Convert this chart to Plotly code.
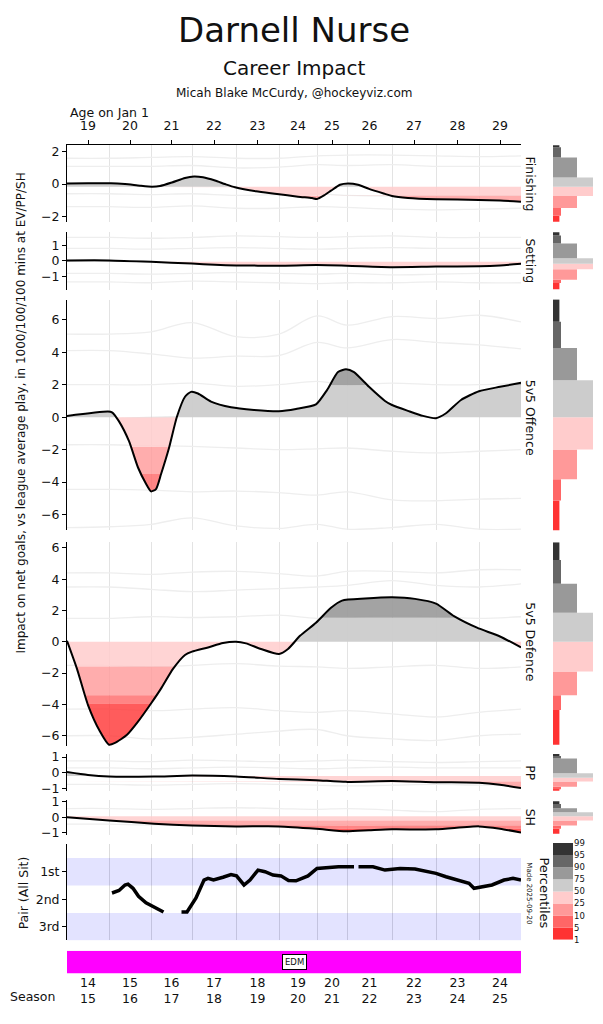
import numpy as np
import plotly.graph_objects as go

W, H = 603, 1024

# ---------------- data ----------------
season_labels = ["14<br>15", "15<br>16", "16<br>17", "17<br>18", "18<br>19", "19<br>20",
                 "20<br>21", "21<br>22", "22<br>23", "23<br>24", "24<br>25"]
season_span = [42, 42, 41, 44, 43, 38, 30, 45, 44, 43, 42]
age_labels = ["19", "20", "21", "22", "23", "24", "25", "26", "27", "28", "29"]

pct_levels = [1, 5, 10, 25, 50, 75, 90, 95, 99]
band_colors = ["#ff3333", "#ff6666", "#ff9999", "#ffcccc",
               "#cccccc", "#999999", "#666666", "#333333"]  # bottom -> top
fill_colors = ["rgba(255,51,51,0.8)", "rgba(255,102,102,0.8)", "rgba(255,153,153,0.8)",
               "rgba(255,204,204,0.85)", "rgba(204,204,204,0.95)", "rgba(153,153,153,0.9)",
               "rgba(102,102,102,0.9)", "rgba(51,51,51,0.9)"]

fin_x = [0, 21, 44, 58, 73, 85, 93, 105, 118, 127, 136, 148, 158, 168, 189, 210, 231, 245, 250,
         257, 264, 273, 281, 291, 302, 318, 325, 341, 369, 412, 433, 454]
fin_y = [0.04, 0.05, 0.05, 0.0, -0.1, -0.16, -0.12, 0.1, 0.38, 0.47, 0.42, 0.22, 0.0, -0.2, -0.45,
         -0.61, -0.78, -0.87, -0.92, -0.7, -0.41, -0.04, 0.04, -0.04, -0.3, -0.61, -0.74, -0.86,
         -0.94, -0.98, -1.02, -1.1]

set_x = [0, 42, 84, 125, 148, 169, 212, 250, 280, 325, 369, 412, 433, 454]
set_y = [0.03, 0.03, -0.06, -0.17, -0.25, -0.29, -0.31, -0.27, -0.31, -0.4, -0.36, -0.34, -0.29, -0.19]

off_x = [0, 41, 45, 52, 62, 71, 79, 84, 89, 94, 102, 110, 118, 124, 131, 144, 164, 187, 212, 229,
         249, 260, 271, 279, 287, 302, 318, 325, 341, 356, 369, 379, 394, 412, 433, 454]
off_y = [0.08, 0.35, 0.3, -0.26, -1.48, -3.1, -4.1, -4.57, -4.43, -3.52, -1.9, 0.04, 1.26, 1.56,
         1.46, 0.96, 0.61, 0.45, 0.37, 0.51, 0.79, 1.67, 2.78, 2.95, 2.78, 1.87, 1.0, 0.75, 0.39,
         0.08, -0.06, 0.24, 1.06, 1.6, 1.87, 2.12]

def_x = [0, 10, 21, 33, 42, 48, 60, 71, 84, 94, 106, 118, 125, 141, 156, 169, 179, 194, 212, 221,
         233, 249, 264, 275, 298, 325, 348, 369, 387, 410, 433, 454]
def_y = [0.06, -1.73, -4.04, -5.73, -6.57, -6.46, -5.94, -5.1, -3.94, -2.99, -1.73, -0.84, -0.63,
         -0.36, -0.08, 0.0, -0.1, -0.46, -0.78, -0.46, 0.38, 1.22, 2.17, 2.63, 2.76, 2.84, 2.74,
         2.44, 1.64, 0.9, 0.34, -0.36]

pp_x = [0, 21, 42, 87, 125, 169, 212, 249, 279, 325, 369, 412, 433, 454]
pp_y = [0.04, -0.15, -0.25, -0.25, -0.19, -0.25, -0.4, -0.48, -0.59, -0.53, -0.61, -0.65, -0.78, -0.99]

sh_x = [0, 42, 87, 125, 169, 212, 249, 279, 302, 325, 369, 412, 433, 454]
sh_y = [0.0, -0.21, -0.42, -0.53, -0.59, -0.59, -0.74, -0.9, -0.84, -0.78, -0.78, -0.59, -0.74, -0.99]

# percentile thresholds used for the area shading (p1..p99)
fin_fill = [-2.37, -1.96, -1.49, -0.72, -0.17, 0.5, 1.64, 2.29, 2.45]
set_fill = [-1.84, -1.42, -1.2, -0.53, -0.05, 0.17, 1.12, 1.63, 1.84]
off_fill = [-7.07, -5.1, -3.5, -1.83, 0.0, 1.97, 4.0, 5.6, 7.26]
def_fill = [-6.57, -3.94, -3.41, -1.58, 0.0, 1.54, 3.71, 5.22, 6.36]
pp_fill = [-1.16, -1.06, -0.9, -0.57, -0.22, 0.05, 0.9, 1.06, 1.2]
sh_fill = [-1.06, -0.74, -0.53, -0.21, 0.06, 0.32, 0.57, 0.84, 1.01]

# percentile edges of the side distributions (p1..p99)
fin_edges = [-2.37, -1.96, -1.49, -0.74, -0.17, 0.41, 1.64, 2.29, 2.45]
set_edges = [-1.84, -1.42, -1.2, -0.53, -0.19, 0.17, 1.12, 1.63, 1.84]
off_edges = [-7.07, -5.14, -3.82, -1.99, 0.0, 2.28, 4.27, 5.88, 7.26]
def_edges = [-6.57, -4.36, -3.41, -1.9, 0.0, 1.86, 3.71, 5.22, 6.36]
pp_edges = [-1.16, -1.06, -0.9, -0.57, -0.32, -0.04, 0.9, 1.06, 1.2]
sh_edges = [-1.06, -0.74, -0.53, -0.21, 0.06, 0.32, 0.57, 0.84, 1.01]

# faint league percentile curves, sampled at season boundaries
fin_faint = [[1.6, 1.6, 1.65, 1.7, 1.6, 1.6, 1.75, 1.8, 1.8, 1.75, 1.7, 1.75],
             [1.1, 1.1, 1.1, 1.15, 1.0, 1.05, 1.2, 1.15, 1.2, 1.1, 1.1, 1.1],
             [-0.6, -0.6, -0.65, -0.6, -0.7, -0.65, -0.6, -0.7, -0.75, -0.7, -0.7, -0.7],
             [-1.4, -1.4, -1.45, -1.35, -1.5, -1.5, -1.4, -1.45, -1.55, -1.6, -1.55, -1.5]]
set_faint = [[1.5, 1.5, 1.45, 1.5, 1.6, 1.55, 1.5, 1.55, 1.6, 1.5, 1.5, 1.5],
             [0.8, 0.8, 0.75, 0.8, 0.85, 0.8, 0.75, 0.8, 0.85, 0.8, 0.8, 0.8],
             [-0.8, -0.8, -0.85, -0.8, -0.75, -0.8, -0.85, -0.8, -0.9, -0.85, -0.8, -0.8],
             [-1.35, -1.35, -1.4, -1.3, -1.35, -1.4, -1.45, -1.4, -1.4, -1.35, -1.4, -1.4]]
off_faint = [[5.12, 5.12, 5.26, 5.83, 4.96, 5.12, 6.24, 5.67, 6.2, 6.08, 6.28, 5.87],
             [4.1, 4.1, 3.9, 3.64, 3.76, 3.8, 4.61, 4.27, 4.78, 4.61, 4.45, 4.21],
             [2.0, 2.0, 2.0, 2.1, 1.9, 2.0, 2.2, 2.0, 2.1, 2.0, 2.0, 2.1],
             [-1.7, -1.7, -1.75, -1.8, -1.9, -2.0, -1.95, -1.9, -2.1, -2.2, -2.1, -2.0],
             [-4.45, -4.45, -4.5, -4.6, -4.55, -4.65, -4.8, -4.6, -5.1, -5.15, -5.05, -5.0],
             [-6.8, -6.75, -6.6, -6.2, -6.7, -6.85, -6.6, -6.9, -6.8, -6.6, -6.9, -6.9]]
def_faint = [[4.4, 4.4, 4.3, 4.45, 4.5, 4.35, 4.2, 4.5, 4.5, 4.4, 4.6, 4.6],
             [3.5, 3.5, 3.35, 3.2, 3.3, 3.4, 3.5, 3.6, 3.9, 3.6, 3.5, 3.7],
             [1.5, 1.5, 1.6, 1.55, 1.6, 1.7, 1.5, 1.55, 1.7, 1.6, 1.5, 1.6],
             [-1.5, -1.5, -1.6, -1.5, -1.4, -1.55, -1.6, -1.7, -1.6, -1.5, -1.7, -1.6],
             [-4.3, -4.3, -4.4, -4.3, -4.2, -4.4, -4.5, -4.4, -4.6, -4.8, -4.5, -4.3],
             [-6.0, -6.0, -6.2, -6.1, -5.9, -5.7, -5.6, -6.0, -6.2, -6.3, -6.0, -5.9]]
pp_faint = [[0.75, 0.75, 0.7, 0.8, 0.75, 0.7, 0.75, 0.8, 0.7, 0.65, 0.7, 0.75],
            [0.3, 0.3, 0.25, 0.3, 0.35, 0.3, 0.25, 0.3, 0.35, 0.3, 0.3, 0.3],
            [-0.75, -0.75, -0.8, -0.75, -0.7, -0.75, -0.8, -0.85, -0.8, -0.75, -0.8, -0.8]]
sh_faint = [[0.55, 0.55, 0.5, 0.55, 0.6, 0.55, 0.5, 0.55, 0.45, 0.35, 0.5, 0.55],
            [-0.45, -0.45, -0.5, -0.45, -0.5, -0.55, -0.5, -0.45, -0.5, -0.55, -0.5, -0.5]]

pair_x = [45, 52, 58, 61, 66, 71.5, 79, 87, 96.5, None,
          114.5, 120, 129, 137, 141, 146.5, 156, 164, 169.5, 177, 183, 191, 198, 206, 214, 221.5,
          229, 241, 250, 260, 271.5, 287, None,
          291.5, 306, 318, 325, 333, 348, 360, 369, 379, 391, 402, 407, 414, 425, 437, 446, 454]
pair_y = [1.77, 1.68, 1.48, 1.45, 1.6, 1.89, 2.13, 2.27, 2.46, None,
          2.46, 2.46, 1.95, 1.3, 1.24, 1.3, 1.2, 1.1, 1.15, 1.48, 1.3, 0.94, 1.0, 1.12, 1.15, 1.32,
          1.33, 1.15, 0.88, 0.85, 0.82, 0.82, None,
          0.82, 0.82, 0.94, 0.92, 0.88, 0.9, 1.0, 1.06, 1.18, 1.3, 1.42, 1.6, 1.56, 1.48, 1.3, 1.24, 1.3]
pair_labels = ["1st", "2nd", "3rd"]
pair_shaded = [1, 3]

teams = ["EDM"]
team_first_season = [0]
team_last_season = [10]
team_colors = ["#ff00ff"]

# ---------------- helpers ----------------
bounds = np.concatenate([[0], np.cumsum(season_span)]).astype(float)
total = bounds[-1]
mids = (bounds[:-1] + bounds[1:]) / 2
inner = bounds[1:-1]


def fx(a, b):
    return [a / W, b / W]


def fy(top, bot):
    return [1 - bot / H, 1 - top / H]


def names(n):
    s = "" if n == 1 else str(n)
    return "x" + s, "y" + s, "xaxis" + s, "yaxis" + s


def with_crossings(x, y, levels):
    xs, ys = [x[0]], [y[0]]
    for i in range(len(x) - 1):
        x0, y0, x1, y1 = x[i], y[i], x[i + 1], y[i + 1]
        cr = []
        for L in levels:
            if (y0 - L) * (y1 - L) < 0:
                t = (L - y0) / (y1 - y0)
                cr.append((t, L))
        for t, L in sorted(cr):
            xs.append(x0 + t * (x1 - x0))
            ys.append(L)
        xs.append(x1)
        ys.append(y1)
    return np.array(xs, float), np.array(ys, float)


FONT = "DejaVu Sans"
TXT = "#111111"

fig = go.Figure()
layout = {}
annotations = []

panels = [
    ("Finishing", fin_x, fin_y, fin_fill, fin_edges, fin_faint, [-2, 0, 2], [-2.33, 2.41], (140.7, 218)),
    ("Setting", set_x, set_y, set_fill, set_edges, set_faint, [-1, 0, 1], [-1.84, 1.86], (228.3, 286.7)),
    ("5v5 Offence", off_x, off_y, off_fill, off_edges, off_faint, [-6, -4, -2, 0, 2, 4, 6], [-6.97, 7.25], (296.7, 530)),
    ("5v5 Defence", def_x, def_y, def_fill, def_edges, def_faint, [-6, -4, -2, 0, 2, 4, 6], [-6.67, 6.36], (542, 748.3)),
    ("PP", pp_x, pp_y, pp_fill, pp_edges, pp_faint, [-1, 0, 1], [-1.16, 1.2], (756, 793.3)),
    ("SH", sh_x, sh_y, sh_fill, sh_edges, sh_faint, [-1, 0, 1], [-1.16, 1.09], (802.7, 838.3)),
]

mass = np.diff(pct_levels)
neg_cols = fill_colors[:4][::-1]
pos_cols = fill_colors[4:]

for i, (label, px, py, th, edges, faint, tv, yr, (top, bot)) in enumerate(panels):
    m = 2 * i + 1
    h = 2 * i + 2
    xa, ya, xl, yl = names(m)
    hxa, hya, hxl, hyl = names(h)

    for fl in faint:
        fig.add_trace(go.Scatter(x=bounds, y=fl, mode="lines",
                                 line=dict(color="#eeeeee", width=1.3, shape="spline"),
                                 hoverinfo="skip", showlegend=False, xaxis=xa, yaxis=ya))

    xd, yd = with_crossings(px, py, th)
    neg = [(th[3], th[4], neg_cols[0]), (th[2], th[3], neg_cols[1]),
           (th[1], th[2], neg_cols[2]), (-np.inf, th[1], neg_cols[3])]
    pos = [(th[4], th[5], pos_cols[0]), (th[5], th[6], pos_cols[1]),
           (th[6], th[7], pos_cols[2]), (th[7], np.inf, pos_cols[3])]
    for lo, hi, c in neg:
        fig.add_trace(go.Scatter(x=xd, y=np.full_like(yd, hi), mode="lines", line=dict(width=0),
                                 hoverinfo="skip", showlegend=False, xaxis=xa, yaxis=ya))
        fig.add_trace(go.Scatter(x=xd, y=np.clip(yd, lo, hi), mode="lines", line=dict(width=0),
                                 fill="tonexty", fillcolor=c, hoverinfo="skip", showlegend=False,
                                 xaxis=xa, yaxis=ya))
    for lo, hi, c in pos:
        fig.add_trace(go.Scatter(x=xd, y=np.full_like(yd, lo), mode="lines", line=dict(width=0),
                                 hoverinfo="skip", showlegend=False, xaxis=xa, yaxis=ya))
        fig.add_trace(go.Scatter(x=xd, y=np.clip(yd, lo, hi), mode="lines", line=dict(width=0),
                                 fill="tonexty", fillcolor=c, hoverinfo="skip", showlegend=False,
                                 xaxis=xa, yaxis=ya))

    fig.add_trace(go.Scatter(x=px, y=py, mode="lines",
                             line=dict(color="black", width=2, shape="spline", smoothing=0.6),
                             showlegend=False, xaxis=xa, yaxis=ya))

    e = np.array(edges)
    fig.add_trace(go.Bar(orientation="h", y=(e[:-1] + e[1:]) / 2, width=np.diff(e), x=mass, base=0,
                         marker=dict(color=band_colors, line=dict(width=0)), showlegend=False,
                         hoverinfo="skip", xaxis=hxa, yaxis=hya))

    xax = dict(domain=fx(67, 521), range=[0, total], anchor=ya, showgrid=False, zeroline=False,
               showticklabels=False, ticks="", showline=False,
               minor=dict(tickmode="array", tickvals=list(inner), showgrid=True,
                          gridcolor="#e3e3e3", gridwidth=1, ticks=""))
    if i == 0:
        xax.update(side="top", showline=True, linecolor="black", linewidth=1, ticks="outside",
                   ticklen=4, tickcolor="black", tickmode="array", tickvals=list(mids),
                   ticktext=age_labels, showticklabels=True, ticklabelstandoff=5,
                   tickfont=dict(size=12.5, color=TXT, family=FONT))
    layout[xl] = xax
    layout[yl] = dict(domain=fy(top, bot), range=yr, anchor=xa, tickmode="array", tickvals=tv,
                      showline=True, linecolor="black", linewidth=1, ticks="outside", ticklen=4,
                      tickcolor="black", showgrid=False, zeroline=False,
                      tickfont=dict(size=12.5, color=TXT, family=FONT))
    layout[hxl] = dict(domain=fx(553, 603), range=[0, 31.25], anchor=hya, visible=False)
    layout[hyl] = dict(domain=fy(top, bot), range=yr, anchor=hxa, visible=False)

    annotations.append(dict(text=label, xref="paper", yref=ya, x=530.5 / W, y=0, textangle=90,
                            showarrow=False, xanchor="center", yanchor="middle",
                            font=dict(size=12.5, color=TXT, family=FONT)))

# ---- pair panel ----
xa, ya, xl, yl = names(13)
fig.add_trace(go.Bar(orientation="h", y=pair_shaded, x=[total] * len(pair_shaded), base=0, width=1,
                     marker=dict(color="rgba(0,0,255,0.11)", line=dict(width=0)), showlegend=False,
                     hoverinfo="skip", xaxis=xa, yaxis=ya))
fig.add_trace(go.Scatter(x=pair_x, y=pair_y, mode="lines", line=dict(color="black", width=3.5),
                         connectgaps=False, showlegend=False, xaxis=xa, yaxis=ya))
layout[xl] = dict(domain=fx(67, 521), range=[0, total], anchor=ya, showgrid=False, zeroline=False,
                  showticklabels=False, ticks="", showline=False,
                  minor=dict(tickmode="array", tickvals=list(inner), showgrid=True,
                             gridcolor="#dcdcdc", gridwidth=1, ticks=""))
layout[yl] = dict(domain=fy(846.7, 944.3), range=[3.48, -0.02], anchor=xa, tickmode="array",
                  tickvals=[1, 2, 3], ticktext=pair_labels, showline=True, linecolor="black",
                  linewidth=1, ticks="outside", ticklen=4, tickcolor="black", showgrid=False,
                  zeroline=False, tickfont=dict(size=12.5, color=TXT, family=FONT))

# ---- team bar ----
xa, ya, xl, yl = names(14)
t_start = [bounds[s] for s in team_first_season]
t_end = [bounds[s + 1] for s in team_last_season]
fig.add_trace(go.Bar(orientation="h", y=[0] * len(teams), x=np.subtract(t_end, t_start), base=t_start,
                     width=1, marker=dict(color=team_colors, line=dict(width=0)), showlegend=False,
                     hoverinfo="skip", xaxis=xa, yaxis=ya))
for tn, a, b in zip(teams, t_start, t_end):
    annotations.append(dict(text=tn, xref=xa, yref=ya, x=(a + b) / 2, y=0, showarrow=False,
                            bgcolor="white", bordercolor="black", borderwidth=1, borderpad=2,
                            font=dict(size=8.5, color=TXT, family=FONT)))
layout[xl] = dict(domain=fx(67, 521), range=[0, total], anchor=ya, showgrid=False, zeroline=False,
                  showline=False, ticks="", tickmode="array", tickvals=list(mids),
                  ticktext=season_labels, tickfont=dict(size=12.5, color=TXT, family=FONT))
layout[yl] = dict(domain=fy(955, 978), range=[-0.5, 0.5], anchor=xa, visible=False)

# ---- percentile legend ----
xa, ya, xl, yl = names(15)
fig.add_trace(go.Bar(x=[0] * len(band_colors), y=[1] * len(band_colors),
                     base=list(range(len(band_colors))), width=1,
                     marker=dict(color=band_colors, line=dict(width=0)), showlegend=False,
                     hoverinfo="skip", xaxis=xa, yaxis=ya))
layout[xl] = dict(domain=fx(553, 573), range=[-0.5, 0.5], anchor=ya, visible=False)
layout[yl] = dict(domain=fy(846, 944), range=[0, len(band_colors)], anchor=xa, side="right",
                  tickmode="array", tickvals=list(range(len(pct_levels))),
                  ticktext=[str(p) for p in pct_levels], ticks="", showline=False, showgrid=False,
                  zeroline=False, tickfont=dict(size=8.5, color=TXT, family=FONT))

# ---- text ----
def txt(text, x, y, size, angle=0, xanchor="center"):
    annotations.append(dict(text=text, xref="paper", yref="paper", x=x / W, y=1 - y / H,
                            showarrow=False, textangle=angle, xanchor=xanchor, yanchor="middle",
                            font=dict(size=size, color=TXT, family=FONT)))

txt("Darnell Nurse", 294, 24, 34)
txt("Career Impact", 294, 63, 20)
txt("Micah Blake McCurdy, @hockeyviz.com", 294, 88, 12)
txt("Age on Jan 1", 68, 108, 12.5, xanchor="left")
txt("Impact on net goals, vs league average play, in 1000/100/100 mins at EV/PP/SH", 21, 412, 12, -90)
txt("Pair (All Sit)", 23, 897, 12.5, -90)
txt("Season", 32, 1001, 12.5)
txt("Percentiles", 545, 896, 13, 90)
txt("Made 2025-09-20", 529, 897, 7, 90)

fig.update_layout(width=W, height=H, margin=dict(l=0, r=0, t=0, b=0), paper_bgcolor="white",
                  plot_bgcolor="white", showlegend=False, barmode="overlay",
                  font=dict(family=FONT, color=TXT), annotations=annotations, **layout)

fig.write_html("out.html")
